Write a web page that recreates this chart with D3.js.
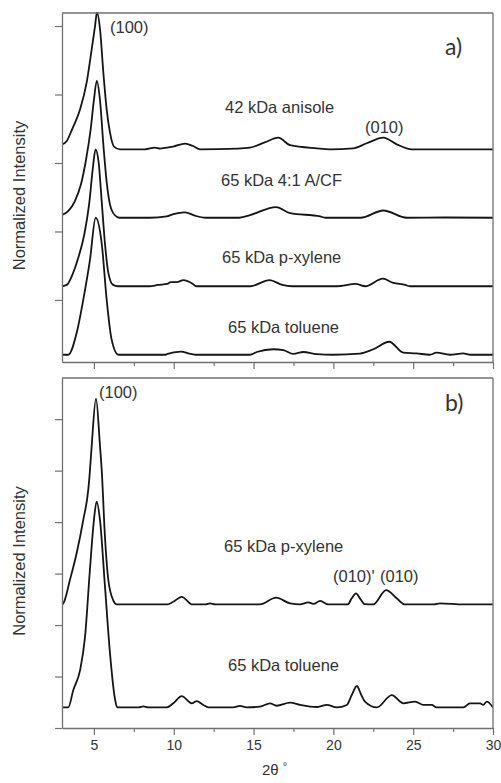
<!DOCTYPE html>
<html>
<head>
<meta charset="utf-8">
<script src="https://cdn.jsdelivr.net/npm/d3@7/dist/d3.min.js"></script>
<style>
  html, body { margin: 0; padding: 0; background: #fff; }
  svg { display: block; }
  text { font-family: "Liberation Sans", Arial, sans-serif; fill: #333; }
</style>
</head>
<body>
<svg id="chart" width="501" height="783"></svg>
<script>
// 2θ range shared by both panels
const thetaDomain = [3, 30];
const majorTicks = [5, 10, 15, 20, 25, 30];
const minorTicks = [7.5, 12.5, 17.5, 22.5, 27.5];

// Normalized intensity (0 = baseline, 1 = (100) peak) versus 2θ
const anisole42 = [[3.0,0.035],[3.3,0.06],[3.63,0.146],[4.13,0.29],[4.55,0.49],[4.86,0.73],[5.07,0.9],[5.19,1.0],[5.38,0.88],[5.59,0.56],[5.8,0.29],[6.01,0.12],[6.26,0.02],[6.63,0],[8.2,0],[8.83,0.012],[9.14,0.005],[9.45,0.01],[9.97,0.02],[10.71,0.042],[11.21,0.024],[11.65,0],[14.0,0.005],[14.78,0.012],[15.7,0.05],[16.55,0.085],[17.29,0.03],[18.96,0.007],[19.79,0],[21.23,0.007],[22.09,0.044],[23.13,0.085],[23.97,0.036],[24.91,0],[30,0]];
const acf65 = [[3.0,0.02],[3.4,0.05],[3.8,0.12],[4.2,0.25],[4.5,0.42],[4.8,0.65],[5.0,0.86],[5.18,1.0],[5.38,0.86],[5.6,0.52],[5.8,0.26],[6.0,0.1],[6.3,0.02],[6.6,0],[8.5,0],[9.56,0.01],[9.97,0.027],[10.71,0.04],[11.33,0.015],[12.0,0],[14.0,0],[14.78,0.02],[16.41,0.078],[17.29,0.034],[19.17,0.01],[19.5,0],[21.7,0],[23.13,0.053],[24.6,0],[27,0.002],[30,0]];
const pxyleneA = [[3.0,0],[3.3,0.01],[3.6,0.07],[4.0,0.2],[4.4,0.38],[4.7,0.6],[4.95,0.88],[5.1,1.0],[5.3,0.9],[5.5,0.6],[5.7,0.3],[5.9,0.1],[6.2,0.01],[6.5,0],[8.5,0],[9.0,0.01],[9.6,0.017],[9.8,0.03],[10.2,0.03],[10.6,0.045],[11.2,0.017],[11.4,0],[14.8,0],[16.0,0.045],[16.8,0.01],[17.4,0],[20.2,0],[21.4,0.017],[22.0,0],[23.1,0.055],[23.75,0.025],[24.5,0.01],[24.8,0],[30,0]];
const tolueneA = [[3.0,0],[3.39,0],[3.92,0.16],[4.33,0.4],[4.75,0.69],[5.11,1.0],[5.49,0.81],[5.8,0.4],[6.11,0.11],[6.53,0],[9.5,0],[9.56,0.004],[10.43,0.023],[11.06,0.006],[11.37,0],[14.78,0],[15.2,0.02],[16.24,0.04],[16.87,0.034],[17.49,0.006],[18.12,0.02],[18.96,0.004],[20.0,0],[21.66,0.008],[22.5,0.04],[23.5,0.095],[24.38,0.015],[25.2,0.01],[26.04,0],[26.46,0.015],[27.3,0],[28.14,0.01],[28.6,0],[30,0]];
const pxyleneB = [[3.0,0],[3.08,0.005],[3.5,0.12],[3.92,0.25],[4.33,0.41],[4.65,0.56],[4.75,0.65],[4.86,0.77],[5.13,1.0],[5.38,0.77],[5.49,0.65],[5.69,0.33],[5.9,0.12],[6.21,0.02],[6.43,0],[9.6,0],[9.97,0.013],[10.5,0.037],[11.02,0.005],[11.13,0],[12.0,0],[12.27,0.005],[12.6,0],[14.78,0],[15.4,0],[16.41,0.033],[17.29,0.005],[17.91,0],[18.43,0.01],[18.75,0.003],[19.17,0.017],[19.69,0],[20.9,0],[21.15,0.03],[21.42,0.054],[21.68,0.028],[21.95,0.002],[22.5,0],[23.3,0.07],[23.97,0.03],[24.49,0],[26.3,0],[26.68,0.005],[28.14,0],[30,0]];
const tolueneB = [[3.0,0],[3.39,0],[3.71,0.085],[4.13,0.18],[4.44,0.34],[4.75,0.67],[5.0,0.91],[5.17,1.0],[5.38,0.91],[5.69,0.59],[6.01,0.26],[6.32,0.04],[6.46,0],[7.8,0],[8.09,0.005],[8.4,0],[9.56,0],[9.97,0.02],[10.5,0.055],[11.13,0.02],[11.44,0.031],[11.85,0.012],[12.17,0],[13.73,0],[14.15,0.007],[14.57,0],[15.41,0.004],[16.03,0.02],[16.45,0.008],[17.29,0.023],[17.91,0.012],[18.54,0.004],[19.0,0.002],[19.59,0.012],[20.21,0],[20.84,0.012],[21.15,0.06],[21.47,0.104],[21.75,0.06],[21.98,0.028],[22.72,0],[23.66,0.06],[24.38,0.02],[25.12,0.028],[25.64,0.012],[26.16,0.012],[26.47,0],[28.14,0],[28.56,0.02],[29.19,0.02],[29.39,0.012],[29.61,0.028],[30,0]];

// Vertical stacking offsets
const offsetsA = [1.6, 1.1, 0.6, 0.1];
const offsetsB = [0.6, 0.1];
const seriesA = [anisole42, acf65, pxyleneA, tolueneA];
const seriesB = [pxyleneB, tolueneB];
const labelsA = ["42 kDa anisole", "65 kDa 4:1 A/CF", "65 kDa p-xylene", "65 kDa toluene"];
const labelsB = ["65 kDa p-xylene", "65 kDa toluene"];
const yTicksA = [0.5, 1.0, 1.5, 2.0, 2.5];
const yTicksB = [0, 0.25, 0.5, 0.75, 1.0, 1.25, 1.5];

const svg = d3.select("#chart");
const left = 62, right = 493;
const frameColor = "#707070";

const x = d3.scaleLinear().domain(thetaDomain).range([left, right]);

const panels = [
  { top: 13, bottom: 362, yDomain: [0.047, 2.595], yTicks: yTicksA, series: seriesA, offsets: offsetsA,
    labels: labelsA, labelPos: [[225,113],[221,186],[222,263],[228,333]], tag: "a)", tagPos: [445,55],
    peaks: [["(100)",110,33],["(010)",365,133]], tickLabels: false, id: "a" },
  { top: 378, bottom: 728, yDomain: [0, 1.7], yTicks: yTicksB, series: seriesB, offsets: offsetsB,
    labels: labelsB, labelPos: [[224,552],[228,671]], tag: "b)", tagPos: [445,411],
    peaks: [["(100)",99,398],["(010)'",333,582],["(010)",380,582]], tickLabels: true, id: "b" }
];

panels.forEach(p => {
  const y = d3.scaleLinear().domain(p.yDomain).range([p.bottom, p.top]);
  const g = svg.append("g");

  g.append("clipPath").attr("id", "clip-" + p.id)
    .append("rect").attr("x", left).attr("y", p.top - 1)
    .attr("width", right - left).attr("height", p.bottom - p.top + 1);

  const line = d3.line()
    .x(d => x(d[0]))
    .y(d => y(d[1]))
    .curve(d3.curveMonotoneX);

  g.append("g").attr("clip-path", `url(#clip-${p.id})`)
    .selectAll("path").data(p.series).join("path")
    .attr("d", (s, i) => line(s.map(d => [d[0], d[1] + p.offsets[i]])))
    .attr("fill", "none").attr("stroke", "#151515")
    .attr("stroke-width", 1.8).attr("stroke-linejoin", "round");

  // frame: top and right edges
  g.append("line").attr("x1", left).attr("x2", right).attr("y1", p.top).attr("y2", p.top)
    .attr("stroke", frameColor).attr("stroke-width", 1.3);
  g.append("line").attr("x1", right).attr("x2", right).attr("y1", p.top).attr("y2", p.bottom)
    .attr("stroke", frameColor).attr("stroke-width", 1.3);

  // bottom axis, major and minor ticks
  const xMajor = d3.axisBottom(x).tickValues(majorTicks).tickSize(7).tickSizeOuter(0)
    .tickFormat(p.tickLabels ? d3.format("d") : () => "");
  const xMinor = d3.axisBottom(x).tickValues(minorTicks).tickSize(4).tickFormat(() => "");
  const gx = g.append("g").attr("transform", `translate(0,${p.bottom})`).call(xMajor);
  const gxm = g.append("g").attr("transform", `translate(0,${p.bottom})`).call(xMinor);
  gxm.select(".domain").remove();

  // left axis
  const yAxis = d3.axisLeft(y).tickValues(p.yTicks).tickSize(7).tickSizeOuter(0).tickFormat(() => "");
  const gy = g.append("g").attr("transform", `translate(${left},0)`).call(yAxis);

  [gx, gxm, gy].forEach(a => {
    a.selectAll(".domain").attr("stroke", frameColor).attr("stroke-width", 1.3);
    a.selectAll(".tick line").attr("stroke", frameColor).attr("stroke-width", 1.2);
  });
  gx.selectAll(".tick text")
    .attr("font-family", "Liberation Sans, Arial, sans-serif")
    .attr("font-size", 14).attr("fill", "#444").attr("dy", null).attr("y", 22);

  // series labels
  g.selectAll("text.series").data(p.labels).join("text")
    .attr("class", "series")
    .attr("x", (d, i) => p.labelPos[i][0]).attr("y", (d, i) => p.labelPos[i][1])
    .attr("font-size", 16.5).text(d => d);

  // reflection labels
  g.selectAll("text.peak").data(p.peaks).join("text")
    .attr("class", "peak")
    .attr("x", d => d[1]).attr("y", d => d[2])
    .attr("font-size", 16.5).text(d => d[0]);

  // panel tag
  g.append("text").attr("x", p.tagPos[0]).attr("y", p.tagPos[1])
    .style("font-family", "Lato, 'Open Sans', sans-serif")
    .attr("font-size", 23).attr("fill", "#222").text(p.tag);

  // y-axis title
  g.append("text")
    .attr("transform", `translate(25,${(p.top + p.bottom) / 2 + 8}) rotate(-90)`)
    .attr("text-anchor", "middle").attr("font-size", 16.5)
    .text("Normalized Intensity");
});

// x-axis title
const xt = svg.append("text").attr("x", 262).attr("y", 775).attr("font-size", 15);
xt.append("tspan").text("2θ");
xt.append("tspan").attr("dx", 4).attr("dy", -5).attr("font-size", 11).text("°");
</script>
</body>
</html>
